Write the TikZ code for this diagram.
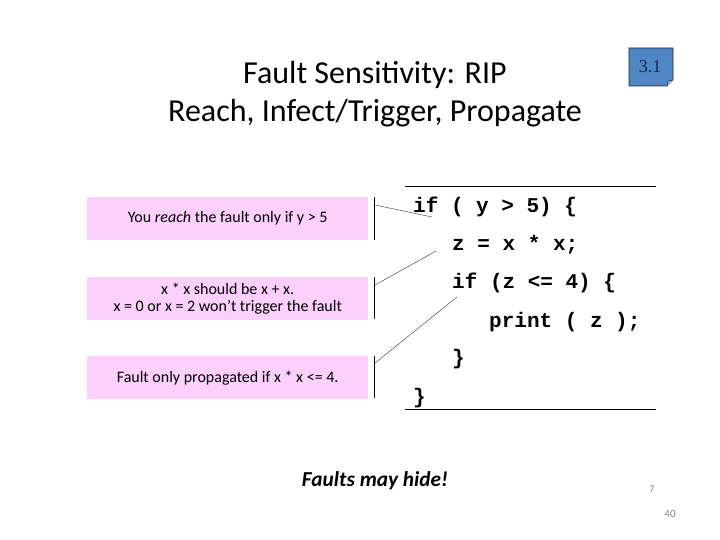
\documentclass[tikz,border=0pt]{standalone}
\usepackage{fontspec}
\setmainfont{Carlito}
\newfontfamily\codefont{Liberation Mono}
\newfontfamily\numfont{Liberation Serif}
\definecolor{pinkbox}{RGB}{252,208,252}
\definecolor{bluebox}{RGB}{79,134,196}
\definecolor{navy}{RGB}{23,43,90}
\begin{document}
\begin{tikzpicture}[x=1pt,y=-1pt,
  note/.style={fill=pinkbox,draw=none,minimum width=281pt,minimum height=43pt,inner sep=0pt,anchor=north west,align=center,font=\fontsize{16}{17.5}\selectfont},
  bar/.style={line width=0.8pt,black},
  pointer/.style={line width=0.4pt,black!80},
  code/.style={anchor=base west,inner sep=0pt,font=\codefont\bfseries\fontsize{21}{24}\selectfont},
  rule/.style={line width=0.8pt,black}]
\useasboundingbox (0,0) rectangle (720,540);
% title
\node (t1) at (375,75) {\fontsize{32}{38}\selectfont Fault Sensitivity: RIP};
\node (t2) at (375,113) {\fontsize{32}{38}\selectfont Reach, Infect/Trigger, Propagate};
% blue tag
\draw[fill=bluebox,draw=black!85,line width=0.6pt] (629,48) -- (673,48) -- (673,80) -- (667,86) -- (629,86) -- cycle;
\draw[fill=bluebox!60!white,draw=black!85,line width=0.5pt] (673,80) -- (668,81) -- (667,86);
\node[text=navy,font=\numfont\fontsize{18}{20}\selectfont] (tag) at (650,67) {3.1};
% notes
\node[note] (n1) at (87,197) {You \textit{reach} the fault only if y > 5};
\node[note] (n2) at (87,277) {x * x should be x + x.\\x = 0 or x = 2 won’t trigger the fault};
\node[note] (n3) at (87,356) {Fault only propagated if x * x <= 4.};
% bars
\draw[bar] (374,197) -- (374,240);
\draw[bar] (374,277) -- (374,319);
\draw[bar] (374,356) -- (374,398);
\coordinate (b1) at (375,205);
\coordinate (b2) at (375,285);
\coordinate (b3) at (375,363);
% code
\draw[rule] (405,186) -- (656,186);
\draw[rule] (405,409) -- (656,409);
\node[code] (c1) at (413,212) {if ( y > 5) \{};
\node[code] (c2) at (452,250) {z = x * x;};
\node[code] (c3) at (452,288) {if (z <= 4) \{};
\node[code] (c4) at (489,327) {print ( z );};
\node[code] (c5) at (452,364) {\}};
\node[code] (c6) at (413,403) {\}};
\coordinate (e1) at (432,217);
\coordinate (e2) at (436,251);
\coordinate (e3) at (457,297);
\draw[pointer] (b1) -- (e1);
\draw[pointer] (b2) -- (e2);
\draw[pointer] (b3) -- (e3);
% footer
\node[font=\bfseries\itshape\fontsize{21.3}{24}\selectfont] (hide) at (375,481) {Faults may hide!};
\node[text=black!50,font=\fontsize{10}{11}\selectfont] (p7) at (652,489) {7};
\node[text=black!50,font=\fontsize{11}{12}\selectfont] (p40) at (670,514) {40};
\end{tikzpicture}
\end{document}
